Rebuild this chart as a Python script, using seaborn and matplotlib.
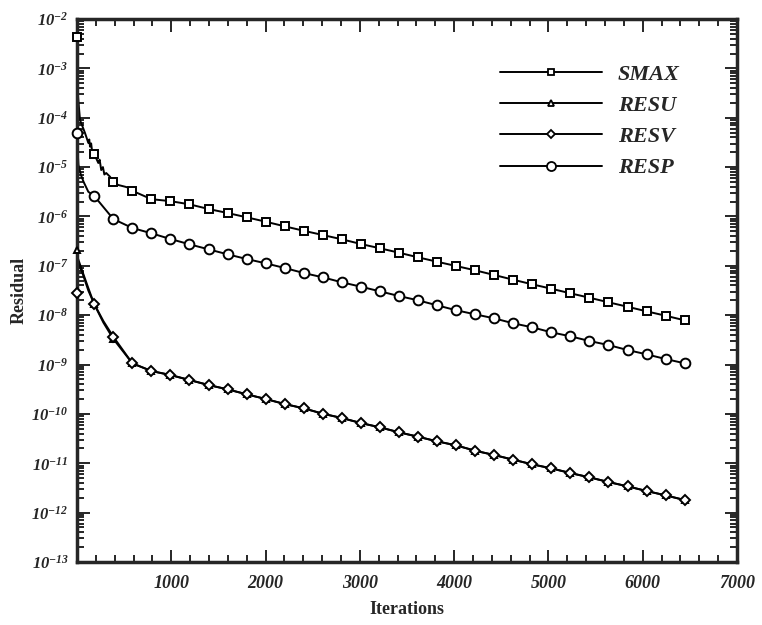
import numpy as np
import pandas as pd
import matplotlib
matplotlib.use("Agg")
import matplotlib.pyplot as plt
import seaborn as sns
from matplotlib.lines import Line2D
from matplotlib.ticker import LogLocator, FixedLocator, MultipleLocator, NullFormatter, FuncFormatter

# ---- data (log10 of residual) ----
series = ["SMAX", "RESU", "RESV", "RESP"]
markers_it = [0, 183, 385, 587, 789, 991, 1193, 1395, 1597, 1799, 2001, 2203, 2405,
              2607, 2809, 3011, 3213, 3415, 3617, 3819, 4021, 4223, 4425, 4627, 4829,
              5031, 5233, 5435, 5637, 5839, 6041, 6243, 6445]
smax_log = [-2.365, -4.735, -5.30, -5.48, -5.65, -5.69, -5.754, -5.849, -5.93, -6.017,
            -6.106, -6.20, -6.29, -6.376, -6.463, -6.558, -6.645, -6.734, -6.828, -6.917,
            -7.004, -7.091, -7.186, -7.282, -7.375, -7.464, -7.557, -7.646, -7.739,
            -7.829, -7.922, -8.011, -8.104]
resu_log = [-6.68, -7.78, -8.48, -8.975, -9.131, -9.212, -9.313, -9.415, -9.502, -9.603,
            -9.698, -9.80, -9.887, -9.996, -10.083, -10.185, -10.272, -10.373, -10.462,
            -10.556, -10.637, -10.746, -10.833, -10.928, -11.022, -11.103, -11.198, -11.285,
            -11.380, -11.467, -11.562, -11.650, -11.745]
resv_log = [-7.557, -7.774, -8.436, -8.975, -9.131, -9.212, -9.313, -9.415, -9.502, -9.603,
            -9.698, -9.80, -9.887, -9.996, -10.083, -10.185, -10.272, -10.373, -10.462,
            -10.556, -10.637, -10.746, -10.833, -10.928, -11.022, -11.103, -11.198, -11.285,
            -11.380, -11.467, -11.562, -11.650, -11.745]
resp_log = [-4.31, -5.586, -6.052, -6.234, -6.341, -6.457, -6.564, -6.666, -6.767, -6.862,
            -6.949, -7.044, -7.146, -7.233, -7.334, -7.423, -7.517, -7.612, -7.699, -7.80,
            -7.90, -7.983, -8.064, -8.165, -8.246, -8.347, -8.428, -8.523, -8.605, -8.706,
            -8.793, -8.888, -8.975]

# early (unmarked) line detail
smax_early_it = [4, 8, 14, 32, 85, 120, 130, 138, 150, 160, 173, 226, 240, 257, 275, 290, 310, 350, 438, 509, 550]
smax_early_log = [-3.2, -3.5, -3.64, -4.046, -4.31, -4.51, -4.44, -4.587, -4.52, -4.68, -4.715,
                  -4.917, -4.85, -5.06, -5.0, -5.15, -5.12, -5.195, -5.363, -5.397, -5.42]
resu_early_it = [10, 53, 120, 280]
resu_early_log = [-6.85, -7.09, -7.45, -8.15]
resv_early_it = [15, 53, 120, 280]
resv_early_log = [-6.95, -7.12, -7.5, -8.12]
resp_early_it = [5, 15, 40, 70, 120]
resp_early_log = [-4.6, -4.95, -5.15, -5.3, -5.5]

marker_style = {"SMAX": "s", "RESU": "^", "RESV": "D", "RESP": "o"}
marker_size = {"SMAX": 5.2, "RESU": 5.0, "RESV": 4.6, "RESP": 7.0}

sns.set_style("ticks")
plt.rcParams["font.family"] = ["Liberation Serif", "DejaVu Serif"]
plt.rcParams["mathtext.fontset"] = "custom"
plt.rcParams["mathtext.rm"] = "Liberation Serif:italic:bold"
plt.rcParams["mathtext.it"] = "Liberation Serif:italic:bold"
plt.rcParams["mathtext.bf"] = "Liberation Serif:italic:bold"

logs = {"SMAX": smax_log, "RESU": resu_log, "RESV": resv_log, "RESP": resp_log}
early = {"SMAX": (smax_early_it, smax_early_log), "RESU": (resu_early_it, resu_early_log),
         "RESV": (resv_early_it, resv_early_log), "RESP": (resp_early_it, resp_early_log)}

line_rows, mark_rows = [], []
for s in series:
    for it, lv in zip(markers_it, logs[s]):
        line_rows.append((s, it, 10 ** lv))
        mark_rows.append((s, it, 10 ** lv))
    for it, lv in zip(*early[s]):
        line_rows.append((s, it, 10 ** lv))
line_df = pd.DataFrame(line_rows, columns=["series", "Iterations", "Residual"]).sort_values(["series", "Iterations"])
mark_df = pd.DataFrame(mark_rows, columns=["series", "Iterations", "Residual"])

fig = plt.figure(figsize=(7.62, 6.25), dpi=100)
ax = fig.add_axes([77 / 762, 1 - 562 / 625, (737 - 77) / 762, (562 - 19) / 625])
ax.set_yscale("log")

for s in series:
    d = line_df[line_df.series == s]
    sns.lineplot(data=d, x="Iterations", y="Residual", ax=ax, color="black", lw=1.4,
                 estimator=None, sort=True, legend=False, zorder=2)
for s in series:
    d = mark_df[mark_df.series == s]
    ax.plot(d["Iterations"], d["Residual"], ls="none", marker=marker_style[s],
            ms=marker_size[s], mfc="white", mec="black", mew=1.4, zorder=3, clip_on=False)

ax.set_xlim(0, 7000)
ax.set_ylim(1e-13, 1e-2)

ax.xaxis.set_major_locator(FixedLocator([1000, 2000, 3000, 4000, 5000, 6000, 7000]))
ax.xaxis.set_minor_locator(MultipleLocator(200))
ax.yaxis.set_major_locator(LogLocator(base=10, numticks=20))
ax.yaxis.set_minor_locator(LogLocator(base=10, subs=np.arange(2, 10), numticks=20))
ax.yaxis.set_minor_formatter(NullFormatter())
ax.yaxis.set_major_formatter(FuncFormatter(lambda v, p: r"$10^{%d}$" % round(np.log10(v))))
ax.xaxis.set_major_formatter(FuncFormatter(lambda v, p: "%d" % v))

ax.tick_params(which="both", direction="in", top=True, right=True, width=1.4)
ax.tick_params(which="major", length=9)
ax.tick_params(which="minor", length=5)
ax.tick_params(axis="x", labelsize=13, pad=9)
ax.tick_params(axis="y", labelsize=12, pad=6)
for lab in ax.get_xticklabels():
    lab.set_fontstyle("italic")
    lab.set_fontweight("bold")
for sp in ax.spines.values():
    sp.set_linewidth(2.5)

ax.set_xlabel("Iterations", fontsize=13, fontweight="bold", labelpad=7)
ax.set_ylabel("Residual", fontsize=13, fontweight="bold", labelpad=3)

handles = [Line2D([0], [0], color="black", lw=1.4, marker=marker_style[s],
                  ms=marker_size[s] - 0.5, mfc="white", mec="black", mew=1.3) for s in series]
leg = ax.legend(handles, series, loc="upper left", bbox_to_anchor=(489 / 762, 1 - 53 / 625),
                bbox_transform=fig.transFigure, frameon=False, handlelength=4.6,
                handletextpad=0.7, labelspacing=0.48, borderpad=0,
                prop={"family": "Liberation Serif", "style": "italic", "weight": "bold", "size": 16})

fig.savefig("out.png", dpi=100)
